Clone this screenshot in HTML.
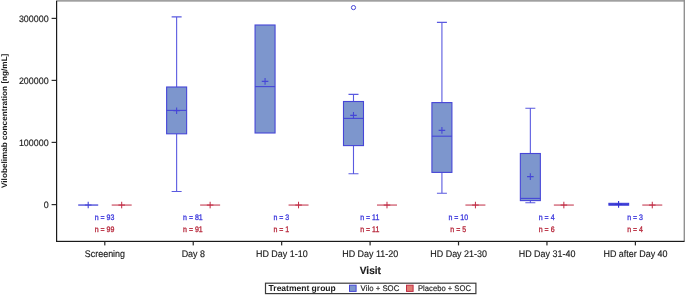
<!DOCTYPE html>
<html><head><meta charset="utf-8"><title>Vilobelimab concentration by visit</title>
<style>html,body{margin:0;padding:0;background:#fff}svg{display:block}</style></head>
<body>
<svg width="685" height="295" viewBox="0 0 685 295" font-family="'Liberation Sans', Arial, sans-serif" text-rendering="geometricPrecision">
<rect x="0" y="0" width="685" height="295" fill="#fff"/>
<rect x="56" y="0" width="629" height="1.7" fill="#a0a0a0"/>
<rect x="683.6" y="0" width="1.4" height="241.5" fill="#909090"/>
<rect x="56" y="1" width="1.2" height="241" fill="#1a1a1a"/>
<rect x="56" y="240.8" width="628.5" height="1.2" fill="#1a1a1a"/>
<rect x="51.6" y="17.80" width="4.6" height="1.2" fill="#2e2e2e"/>
<text transform="translate(48.60 21.70) scale(0.968 1)" font-size="9.2" text-anchor="end" fill="#1a1a1a" stroke="#1a1a1a" stroke-width="0.15">300000</text>
<rect x="51.6" y="79.80" width="4.6" height="1.2" fill="#2e2e2e"/>
<text transform="translate(48.60 83.70) scale(0.968 1)" font-size="9.2" text-anchor="end" fill="#1a1a1a" stroke="#1a1a1a" stroke-width="0.15">200000</text>
<rect x="51.6" y="141.80" width="4.6" height="1.2" fill="#2e2e2e"/>
<text transform="translate(48.60 145.70) scale(0.968 1)" font-size="9.2" text-anchor="end" fill="#1a1a1a" stroke="#1a1a1a" stroke-width="0.15">100000</text>
<rect x="51.6" y="204.00" width="4.6" height="1.2" fill="#2e2e2e"/>
<text transform="translate(48.60 207.90) scale(0.968 1)" font-size="9.2" text-anchor="end" fill="#1a1a1a" stroke="#1a1a1a" stroke-width="0.15">0</text>
<rect x="104.20" y="241.5" width="1.2" height="3.9" fill="#262626"/>
<text transform="translate(104.90 256.55) scale(0.932 1)" font-size="9.6" text-anchor="middle" fill="#1a1a1a" stroke="#1a1a1a" stroke-width="0.15">Screening</text>
<rect x="192.63" y="241.5" width="1.2" height="3.9" fill="#262626"/>
<text transform="translate(193.33 256.55) scale(0.932 1)" font-size="9.6" text-anchor="middle" fill="#1a1a1a" stroke="#1a1a1a" stroke-width="0.15">Day 8</text>
<rect x="281.06" y="241.5" width="1.2" height="3.9" fill="#262626"/>
<text transform="translate(281.76 256.55) scale(0.932 1)" font-size="9.6" text-anchor="middle" fill="#1a1a1a" stroke="#1a1a1a" stroke-width="0.15">HD Day 1-10</text>
<rect x="369.49" y="241.5" width="1.2" height="3.9" fill="#262626"/>
<text transform="translate(370.19 256.55) scale(0.932 1)" font-size="9.6" text-anchor="middle" fill="#1a1a1a" stroke="#1a1a1a" stroke-width="0.15">HD Day 11-20</text>
<rect x="457.92" y="241.5" width="1.2" height="3.9" fill="#262626"/>
<text transform="translate(458.62 256.55) scale(0.932 1)" font-size="9.6" text-anchor="middle" fill="#1a1a1a" stroke="#1a1a1a" stroke-width="0.15">HD Day 21-30</text>
<rect x="546.35" y="241.5" width="1.2" height="3.9" fill="#262626"/>
<text transform="translate(547.05 256.55) scale(0.932 1)" font-size="9.6" text-anchor="middle" fill="#1a1a1a" stroke="#1a1a1a" stroke-width="0.15">HD Day 31-40</text>
<rect x="634.78" y="241.5" width="1.2" height="3.9" fill="#262626"/>
<text transform="translate(635.48 256.55) scale(0.932 1)" font-size="9.6" text-anchor="middle" fill="#1a1a1a" stroke="#1a1a1a" stroke-width="0.15">HD after Day 40</text>
<text transform="translate(104.50 220.00) scale(0.875 1)" font-size="8.0" text-anchor="middle" fill="#3834dc" stroke="#3834dc" stroke-width="0.3">n = 93</text>
<text transform="translate(104.50 231.80) scale(0.875 1)" font-size="8.0" text-anchor="middle" fill="#b62438" stroke="#b62438" stroke-width="0.3">n = 99</text>
<text transform="translate(192.93 220.00) scale(0.875 1)" font-size="8.0" text-anchor="middle" fill="#3834dc" stroke="#3834dc" stroke-width="0.3">n = 81</text>
<text transform="translate(192.93 231.80) scale(0.875 1)" font-size="8.0" text-anchor="middle" fill="#b62438" stroke="#b62438" stroke-width="0.3">n = 91</text>
<text transform="translate(281.36 220.00) scale(0.875 1)" font-size="8.0" text-anchor="middle" fill="#3834dc" stroke="#3834dc" stroke-width="0.3">n = 3</text>
<text transform="translate(281.36 231.80) scale(0.875 1)" font-size="8.0" text-anchor="middle" fill="#b62438" stroke="#b62438" stroke-width="0.3">n = 1</text>
<text transform="translate(369.79 220.00) scale(0.875 1)" font-size="8.0" text-anchor="middle" fill="#3834dc" stroke="#3834dc" stroke-width="0.3">n = 11</text>
<text transform="translate(369.79 231.80) scale(0.875 1)" font-size="8.0" text-anchor="middle" fill="#b62438" stroke="#b62438" stroke-width="0.3">n = 11</text>
<text transform="translate(458.22 220.00) scale(0.875 1)" font-size="8.0" text-anchor="middle" fill="#3834dc" stroke="#3834dc" stroke-width="0.3">n = 10</text>
<text transform="translate(458.22 231.80) scale(0.875 1)" font-size="8.0" text-anchor="middle" fill="#b62438" stroke="#b62438" stroke-width="0.3">n = 5</text>
<text transform="translate(546.65 220.00) scale(0.875 1)" font-size="8.0" text-anchor="middle" fill="#3834dc" stroke="#3834dc" stroke-width="0.3">n = 4</text>
<text transform="translate(546.65 231.80) scale(0.875 1)" font-size="8.0" text-anchor="middle" fill="#b62438" stroke="#b62438" stroke-width="0.3">n = 6</text>
<text transform="translate(635.08 220.00) scale(0.875 1)" font-size="8.0" text-anchor="middle" fill="#3834dc" stroke="#3834dc" stroke-width="0.3">n = 3</text>
<text transform="translate(635.08 231.80) scale(0.875 1)" font-size="8.0" text-anchor="middle" fill="#b62438" stroke="#b62438" stroke-width="0.3">n = 4</text>
<path d="M111.70 205.05H131.70" stroke="#c02c44" stroke-width="1.0" fill="none"/>
<path d="M118.40 205.05H125.00M121.70 201.75V208.35" stroke="#c02c44" stroke-width="1.0" fill="none"/>
<path d="M78.20 205.05H98.20" stroke="#4646d7" stroke-width="1.3" fill="none"/>
<path d="M84.90 205.05H91.50M88.20 201.75V208.35" stroke="#4646d7" stroke-width="1.1" fill="none"/>
<path d="M200.13 205.05H220.13" stroke="#c02c44" stroke-width="1.0" fill="none"/>
<path d="M206.83 205.05H213.43M210.13 201.75V208.35" stroke="#c02c44" stroke-width="1.0" fill="none"/>
<path d="M176.63 16.9V87.0M171.63 16.9H181.63" stroke="#5a5ae0" stroke-width="1.1" fill="none"/>
<path d="M176.63 133.8V191.5M171.63 191.5H181.63" stroke="#5a5ae0" stroke-width="1.1" fill="none"/>
<rect x="166.63" y="87.0" width="20.0" height="46.80" fill="#7d96cd" stroke="#4646d7" stroke-width="1.1"/>
<path d="M166.63 110.4H186.63" stroke="#4646d7" stroke-width="1.1" fill="none"/>
<path d="M173.33 110.70H179.93M176.63 107.40V114.00" stroke="#4646d7" stroke-width="1.1" fill="none"/>
<path d="M288.56 205.05H308.56" stroke="#c02c44" stroke-width="1.0" fill="none"/>
<path d="M295.26 205.05H301.86M298.56 201.75V208.35" stroke="#c02c44" stroke-width="1.0" fill="none"/>
<rect x="255.06" y="25.0" width="20.0" height="108.00" fill="#7d96cd" stroke="#4646d7" stroke-width="1.1"/>
<path d="M255.06 86.6H275.06" stroke="#4646d7" stroke-width="1.1" fill="none"/>
<path d="M261.76 81.40H268.36M265.06 78.10V84.70" stroke="#4646d7" stroke-width="1.1" fill="none"/>
<path d="M376.99 205.05H396.99" stroke="#c02c44" stroke-width="1.0" fill="none"/>
<path d="M383.69 205.05H390.29M386.99 201.75V208.35" stroke="#c02c44" stroke-width="1.0" fill="none"/>
<path d="M353.49 94.4V101.5M348.49 94.4H358.49" stroke="#5a5ae0" stroke-width="1.1" fill="none"/>
<path d="M353.49 145.6V173.8M348.49 173.8H358.49" stroke="#5a5ae0" stroke-width="1.1" fill="none"/>
<rect x="343.49" y="101.5" width="20.0" height="44.10" fill="#7d96cd" stroke="#4646d7" stroke-width="1.1"/>
<path d="M343.49 118.4H363.49" stroke="#4646d7" stroke-width="1.1" fill="none"/>
<path d="M350.19 115.40H356.79M353.49 112.10V118.70" stroke="#4646d7" stroke-width="1.1" fill="none"/>
<path d="M465.42 205.05H485.42" stroke="#c02c44" stroke-width="1.0" fill="none"/>
<path d="M472.12 205.05H478.72M475.42 201.75V208.35" stroke="#c02c44" stroke-width="1.0" fill="none"/>
<path d="M441.92 22.4V102.6M436.92 22.4H446.92" stroke="#5a5ae0" stroke-width="1.1" fill="none"/>
<path d="M441.92 172.4V193.2M436.92 193.2H446.92" stroke="#5a5ae0" stroke-width="1.1" fill="none"/>
<rect x="431.92" y="102.6" width="20.0" height="69.80" fill="#7d96cd" stroke="#4646d7" stroke-width="1.1"/>
<path d="M431.92 136.2H451.92" stroke="#4646d7" stroke-width="1.1" fill="none"/>
<path d="M438.62 130.40H445.22M441.92 127.10V133.70" stroke="#4646d7" stroke-width="1.1" fill="none"/>
<path d="M553.85 205.05H573.85" stroke="#c02c44" stroke-width="1.0" fill="none"/>
<path d="M560.55 205.05H567.15M563.85 201.75V208.35" stroke="#c02c44" stroke-width="1.0" fill="none"/>
<path d="M530.35 108.2V153.5M525.35 108.2H535.35" stroke="#5a5ae0" stroke-width="1.1" fill="none"/>
<path d="M530.35 200.6V202.8M525.35 202.8H535.35" stroke="#5a5ae0" stroke-width="1.1" fill="none"/>
<rect x="520.35" y="153.5" width="20.0" height="47.10" fill="#7d96cd" stroke="#4646d7" stroke-width="1.1"/>
<path d="M520.35 198.4H540.35" stroke="#4646d7" stroke-width="1.1" fill="none"/>
<path d="M527.05 176.60H533.65M530.35 173.30V179.90" stroke="#4646d7" stroke-width="1.1" fill="none"/>
<path d="M642.28 205.05H662.28" stroke="#c02c44" stroke-width="1.0" fill="none"/>
<path d="M648.98 205.05H655.58M652.28 201.75V208.35" stroke="#c02c44" stroke-width="1.0" fill="none"/>
<rect x="608.88" y="203.3" width="19.8" height="1.9" fill="#3c3cd2" stroke="#3c3cd7" stroke-width="1.0"/>
<path d="M615.18 204.30H621.98M618.58 200.90V207.70" stroke="#3232d2" stroke-width="1.1" fill="none"/>
<circle cx="353.49" cy="7.6" r="2.1" fill="none" stroke="#4646d7" stroke-width="1.0"/>
<text transform="translate(370.40 273.50) scale(0.955 1)" font-size="10.6" text-anchor="middle" fill="#1a1a1a" font-weight="bold" stroke="#1a1a1a" stroke-width="0.15">Visit</text>
<text transform="translate(7.00 120.80) rotate(-90) scale(1.03 1)" font-size="7.95" text-anchor="middle" fill="#1a1a1a" font-weight="bold">Vilobelimab concentration [ng/mL]</text>
<rect x="265.5" y="283.2" width="210.4" height="10.4" fill="#fff" stroke="#3c3c3c" stroke-width="1.2"/>
<text transform="translate(268.60 291.20) scale(0.99 1)" font-size="8.6" text-anchor="start" fill="#1a1a1a" font-weight="bold">Treatment group</text>
<rect x="349.5" y="285.2" width="6.6" height="6.2" fill="#7d96cd" stroke="#4646d7" stroke-width="1"/>
<text transform="translate(360.60 291.20) scale(0.965 1)" font-size="8.1" text-anchor="start" fill="#1a1a1a" stroke="#1a1a1a" stroke-width="0.15">Vilo + SOC</text>
<rect x="406.5" y="285.2" width="6.6" height="6.2" fill="#e17d73" stroke="#c02c44" stroke-width="1"/>
<text transform="translate(418.00 291.20) scale(0.945 1)" font-size="8.1" text-anchor="start" fill="#1a1a1a" stroke="#1a1a1a" stroke-width="0.15">Placebo + SOC</text>
</svg>
</body></html>
